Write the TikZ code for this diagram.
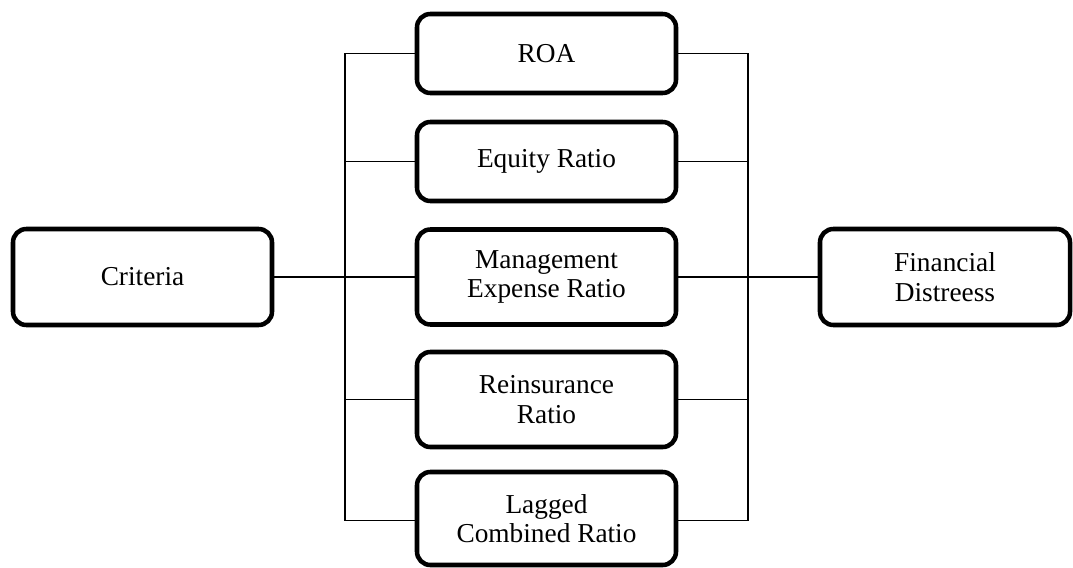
\documentclass[tikz,border=0pt]{standalone}
\usepackage{fontspec}
\setmainfont{Liberation Serif}
\begin{document}
\begin{tikzpicture}[x=0.75pt,y=-0.75pt,
  box/.style={draw=black,line width=3.4pt,rounded corners=10pt,align=center,
    minimum width=194.25pt,inner sep=0pt,
    font=\fontsize{20.5}{22}\selectfont},
  conn/.style={draw=black,line width=1.1pt}]
\useasboundingbox (0,0) rectangle (1073,567);
\node[box,minimum height=72pt] (crit) at (142.5,277) {Criteria};
\node[box,minimum height=72pt,minimum width=187.5pt] (fin) at (945,277) {Financial\\Distreess};
\node[box,minimum height=59.25pt] (roa) at (546.5,53.5) {ROA};
\node[box,minimum height=59.25pt] (eq) at (546.5,161.5) {Equity Ratio};
\node[box,minimum height=71.25pt] (mgmt) at (546.5,277) {Management\\Expense Ratio};
\node[box,minimum height=71.25pt] (rei) at (546.5,399.5) {Reinsurance\\Ratio};
\node[box,minimum height=69.75pt] (lag) at (546.5,518.5) {Lagged\\Combined Ratio};
\coordinate (lt) at (345,53.5);
\coordinate (lb) at (345,520.5);
\coordinate (rt) at (748,53.5);
\coordinate (rb) at (748,520.5);
\draw[conn] (lt) -- (lb);
\draw[conn] (rt) -- (rb);
\foreach \n in {roa,eq,rei} {
  \draw[conn] (\n.west -| lt) -- (\n.west);
  \draw[conn] (\n.east) -- (\n.east -| rt);
}
\draw[conn] (lb) -- (lb -| lag.west);
\draw[conn] (rb -| lag.east) -- (rb);
\draw[conn] (crit.east) -- (mgmt.west);
\draw[conn] (mgmt.east) -- (fin.west);
\end{tikzpicture}
\end{document}
